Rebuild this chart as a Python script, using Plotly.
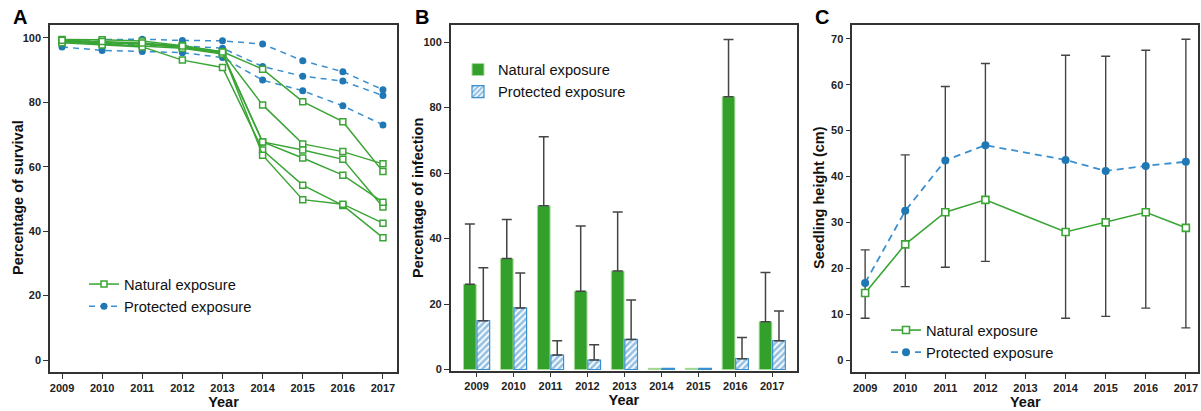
import plotly.graph_objects as go

# ---------------- data ----------------
years = [2009, 2010, 2011, 2012, 2013, 2014, 2015, 2016, 2017]
year_labels = [str(y) for y in years]

# Panel A: percentage of survival (one list per plot)
surv_natural_1 = [99.5, 99.4, 99.0, 97.6, 95.7, 90.3, 80.2, 74.0, 58.5]
surv_natural_2 = [99.2, 98.8, 98.2, 97.3, 95.5, 79.2, 67.1, 64.7, 60.9]
surv_natural_3 = [99.0, 98.5, 98.0, 97.0, 95.3, 67.7, 65.2, 62.3, 47.5]
surv_natural_4 = [98.8, 98.2, 97.6, 96.8, 95.0, 67.7, 62.7, 57.4, 49.0]
surv_natural_5 = [98.5, 97.8, 97.2, 93.1, 90.8, 65.2, 54.3, 48.0, 38.0]
surv_natural_6 = [99.3, 98.9, 98.4, 97.5, 95.6, 63.6, 49.8, 48.4, 42.5]
surv_protected_1 = [99.3, 99.4, 99.6, 99.2, 99.1, 98.1, 92.9, 89.5, 83.9]
surv_protected_2 = [98.6, 98.2, 97.9, 97.5, 96.8, 91.1, 88.1, 86.6, 82.1]
surv_protected_3 = [97.2, 96.1, 95.8, 95.4, 93.9, 86.9, 83.6, 78.9, 73.0]

# Panel B: percentage of infection (mean and top of error bar)
infect_natural = [26.0, 33.9, 50.0, 23.9, 30.1, 0, 0, 83.3, 14.6]
infect_natural_upper = [44.4, 45.8, 71.1, 43.8, 48.1, None, None, 100.8, 29.6]
infect_protected = [14.9, 18.8, 4.4, 2.9, 9.2, 0, 0, 3.3, 8.8]
infect_protected_upper = [31.1, 29.5, 8.8, 7.6, 21.2, None, None, 9.8, 17.9]

# Panel C: seedling height (cm)
height_years = [2009, 2010, 2011, 2012, 2014, 2015, 2016, 2017]
height_natural = [14.6, 25.2, 32.2, 34.9, 27.9, 30.0, 32.2, 28.8]
height_protected = [16.8, 32.5, 43.5, 46.8, 43.6, 41.2, 42.3, 43.2]
height_err_low = [9.1, 16.0, 20.2, 21.5, 9.1, 9.5, 11.3, 7.0]
height_err_high = [24.0, 44.7, 59.6, 64.6, 66.4, 66.2, 67.5, 69.9]

# ---------------- style ----------------
FONT = "Liberation Sans, Arial, Helvetica, sans-serif"
GREEN = "#3aa535"
GREEN_BAR = "#33a02c"
BLUE = "#1f78b4"
BLUE_LINE = "#3a8fd0"
HATCH = "#2a82c6"
ERR = "#444444"
W, H = 1201, 411

fig = go.Figure()

# ---------------- Panel A ----------------
nat_lists = [surv_natural_1, surv_natural_2, surv_natural_3,
             surv_natural_4, surv_natural_5, surv_natural_6]
prot_lists = [surv_protected_1, surv_protected_2, surv_protected_3]

for i, vals in enumerate(prot_lists):
    fig.add_trace(go.Scatter(
        x=years, y=vals, mode="lines+markers", xaxis="x", yaxis="y",
        name="Protected exposure", legend="legend", legendrank=2,
        showlegend=(i == 0),
        line=dict(color=BLUE_LINE, width=1.5, dash="6px,5px"),
        marker=dict(symbol="circle", size=7, color=BLUE),
    ))
for i, vals in enumerate(nat_lists):
    fig.add_trace(go.Scatter(
        x=years, y=vals, mode="lines+markers", xaxis="x", yaxis="y",
        name="Natural exposure", legend="legend", legendrank=1,
        showlegend=(i == 0),
        line=dict(color=GREEN, width=1.5),
        marker=dict(symbol="square", size=6, color="white",
                    line=dict(color=GREEN, width=1.5)),
    ))

# ---------------- Panel B ----------------
def split(vals, uppers):
    xs, ys, errs, zx, zy = [], [], [], [], []
    for lab, v, u in zip(year_labels, vals, uppers):
        if v > 0:
            xs.append(lab); ys.append(v); errs.append(u - v)
        else:
            zx.append(lab); zy.append(max(v, 0.35))
    return xs, ys, errs, zx, zy

nat_bar = dict(color=GREEN_BAR, line=dict(color="#a9dc9c", width=1))
prot_bar = dict(color="white", line=dict(color=BLUE_LINE, width=1.2),
                pattern=dict(shape="/", fgcolor=HATCH, bgcolor="white",
                             size=4.5, solidity=0.6))

for name, vals, ups, mk, grp, rank in [
        ("Natural exposure", infect_natural, infect_natural_upper, nat_bar, "nat", 1),
        ("Protected exposure", infect_protected, infect_protected_upper, prot_bar, "prot", 2)]:
    xs, ys, errs, zx, zy = split(vals, ups)
    fig.add_trace(go.Bar(
        x=xs, y=ys, name=name, xaxis="x2", yaxis="y2", offsetgroup=grp,
        legend="legend2", legendrank=rank, marker=mk,
        error_y=dict(type="data", array=errs, arrayminus=[0] * len(errs),
                     symmetric=False, color=ERR, thickness=1.5, width=5),
    ))
    fig.add_trace(go.Bar(
        x=zx, y=zy, name=name, xaxis="x2", yaxis="y2", offsetgroup=grp,
        legend="legend2", showlegend=False, marker=mk,
    ))

# ---------------- Panel C ----------------
fig.add_trace(go.Scatter(
    x=height_years, y=height_err_low, mode="markers", xaxis="x3", yaxis="y3",
    showlegend=False, hoverinfo="skip",
    marker=dict(size=2, opacity=0),
    error_y=dict(type="data",
                 array=[h - l for h, l in zip(height_err_high, height_err_low)],
                 arrayminus=[0] * len(height_err_low), symmetric=False,
                 color=ERR, thickness=1.4, width=4.5),
))
fig.add_trace(go.Scatter(
    x=height_years, y=height_natural, mode="lines+markers", xaxis="x3", yaxis="y3",
    name="Natural exposure", legend="legend3", legendrank=1,
    line=dict(color=GREEN, width=1.6),
    marker=dict(symbol="square", size=7, color="white",
                line=dict(color=GREEN, width=1.6)),
))
fig.add_trace(go.Scatter(
    x=height_years, y=height_protected, mode="lines+markers", xaxis="x3", yaxis="y3",
    name="Protected exposure", legend="legend3", legendrank=2,
    line=dict(color=BLUE_LINE, width=1.8, dash="7px,5px"),
    marker=dict(symbol="circle", size=8, color=BLUE),
))

# ---------------- layout ----------------
def px_x(p):
    return p / W

def px_y(p):
    return (H - p) / H

tickfont = dict(family=FONT, size=11, color="#222222", weight="bold")
titlefont = dict(family=FONT, size=14.5, color="#111111", weight="bold")

def axis(**kw):
    d = dict(showline=True, mirror=True, linecolor="#333333", linewidth=1.5,
             ticks="outside", ticklen=5, tickwidth=1.3, tickcolor="#333333",
             showgrid=False, zeroline=False, tickfont=tickfont,
             automargin=False)
    d.update(kw)
    return d

ydom_a = [px_y(372), px_y(25)]
ydom_b = [px_y(370.5), px_y(25)]
ydom_c = [px_y(372.3), px_y(25)]

def ytitle(text, xc, yc):
    return dict(text=f"<b>{text}</b>", x=px_x(xc), y=px_y(yc), xref="paper", yref="paper",
                xanchor="center", yanchor="middle", textangle=-90, showarrow=False,
                font=dict(family=FONT, size=14.5, color="#111111"))

def letter(text, xl):
    return dict(text=f"<b>{text}</b>", x=px_x(xl), y=px_y(17), xref="paper", yref="paper",
                xanchor="left", yanchor="middle", showarrow=False,
                font=dict(family=FONT, size=20, color="black"))

legend_font = dict(family=FONT, size=14.7, color="#111111")

fig.update_layout(
    width=W, height=H,
    margin=dict(l=0, r=0, t=0, b=0),
    paper_bgcolor="white", plot_bgcolor="white",
    font=dict(family=FONT, color="#111111"),
    barmode="group", bargap=0.27, bargroupgap=0.06,
    xaxis=axis(domain=[px_x(50), px_x(397)], range=[2008.7, 2017.35],
               tickmode="array", tickvals=years, ticktext=year_labels,
               title=dict(text="Year", font=titlefont, standoff=2), anchor="y"),
    yaxis=axis(domain=ydom_a, range=[-3.7, 104], tickvals=[0, 20, 40, 60, 80, 100],
               anchor="x"),
    xaxis2=axis(domain=[px_x(450.7), px_x(797)], type="category",
                categoryorder="array", categoryarray=year_labels,
                range=[-0.7, 8.67],
                title=dict(text="Year", font=titlefont, standoff=2), anchor="y2"),
    yaxis2=axis(domain=ydom_b, range=[-0.3, 105.2], tickvals=[0, 20, 40, 60, 80, 100],
                anchor="x2"),
    xaxis3=axis(domain=[px_x(852.3), px_x(1198.3)], range=[2008.68, 2017.31],
                tickmode="array", tickvals=years, ticktext=year_labels,
                title=dict(text="Year", font=titlefont, standoff=2), anchor="y3"),
    yaxis3=axis(domain=ydom_c, range=[-2.68, 73.0],
                tickvals=[0, 10, 20, 30, 40, 50, 60, 70],
                anchor="x3"),
    legend=dict(x=px_x(84), y=px_y(268), xanchor="left", yanchor="top",
                bgcolor="rgba(0,0,0,0)", font=legend_font),
    legend2=dict(x=px_x(458), y=px_y(53.5), xanchor="left", yanchor="top",
                 bgcolor="rgba(0,0,0,0)", font=legend_font),
    legend3=dict(x=px_x(886), y=px_y(314), xanchor="left", yanchor="top",
                 bgcolor="rgba(0,0,0,0)", font=legend_font),
    annotations=[
        letter("A", 11), letter("B", 413), letter("C", 813),
        ytitle("Percentage of survival", 18, 198),
        ytitle("Percentage of infection", 418, 198),
        ytitle("Seedling height (cm)", 819, 198),
    ],
)

fig.write_html("out.html", config={"displayModeBar": False},
               post_script="document.body.style.margin='0';")
